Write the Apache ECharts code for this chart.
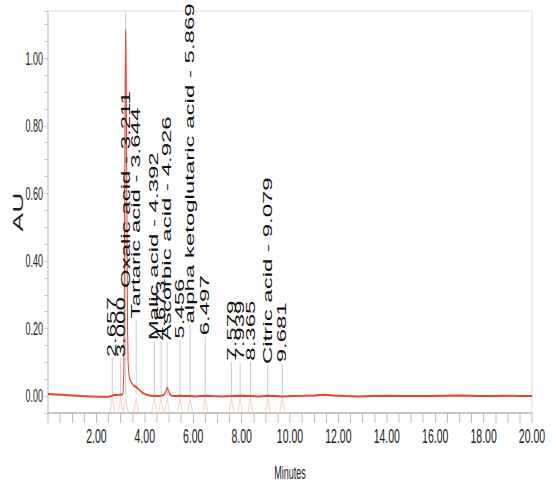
<!DOCTYPE html>
<html>
<head>
<meta charset="utf-8">
<script src="https://cdn.jsdelivr.net/npm/echarts@6/dist/echarts.min.js"></script>
<style>
html,body{margin:0;padding:0;background:#fff;overflow:hidden;}
#wrap{width:552px;height:484px;overflow:hidden;position:relative;background:#fff;}
#chart{width:1104px;height:484px;transform:scaleX(0.5);transform-origin:0 0;}
</style>
</head>
<body>
<div id="wrap"><div id="chart"></div></div>
<script>
// ---------------- data ----------------
const xTickValues = [2, 4, 6, 8, 10, 12, 14, 16, 18, 20];
const xTickLabels = ["2.00", "4.00", "6.00", "8.00", "10.00", "12.00", "14.00", "16.00", "18.00", "20.00"];
const yTickValues = [0, 0.2, 0.4, 0.6, 0.8, 1.0];
const yTickLabels = ["0.00", "0.20", "0.40", "0.60", "0.80", "1.00"];

const traceTime = [0.00, 0.30, 0.60, 1.00, 1.40, 1.80, 2.20, 2.50, 2.657, 2.75, 2.85, 2.95, 3.05, 3.10, 3.13, 3.15, 3.17, 3.19, 3.211, 3.23, 3.25, 3.27, 3.29, 3.31, 3.34, 3.38, 3.45, 3.55, 3.644, 3.75, 3.90, 4.05, 4.20, 4.392, 4.55, 4.673, 4.80, 4.87, 4.926, 4.97, 5.03, 5.12, 5.30, 5.456, 5.65, 5.869, 6.10, 6.30, 6.497, 6.80, 7.20, 7.579, 7.939, 8.365, 8.70, 9.079, 9.40, 9.681, 10.10, 10.60, 11.00, 11.40, 11.80, 12.30, 12.80, 13.40, 14.00, 14.60, 15.20, 15.80, 16.40, 17.00, 17.40, 17.80, 18.40, 19.00, 19.50, 20.00];
const traceAU = [0.006, 0.005, 0.004, 0.002, 0.000, -0.001, -0.002, -0.002, 0.001, 0.004, 0.003, 0.004, 0.004, 0.008, 0.06, 0.25, 0.62, 0.95, 1.085, 0.97, 0.68, 0.38, 0.19, 0.10, 0.065, 0.05, 0.04, 0.03, 0.027, 0.02, 0.01, 0.005, 0.002, 0.000, 0.000, 0.001, 0.004, 0.014, 0.025, 0.018, 0.006, 0.001, 0.000, 0.001, 0.000, 0.000, -0.001, 0.000, 0.001, 0.000, -0.001, 0.000, 0.001, 0.000, -0.001, 0.001, 0.000, -0.001, 0.000, 0.001, 0.002, 0.004, 0.002, 0.000, -0.001, 0.000, 0.001, 0.000, 0.000, 0.000, 0.001, 0.002, 0.001, 0.000, 0.000, 0.001, 0.000, 0.000];

const peakTimes = [2.657, 3.000, 3.211, 3.644, 4.392, 4.673, 4.926, 5.456, 5.869, 6.497, 7.579, 7.939, 8.365, 9.079, 9.681];
const peakNames = ["", "", "Oxalic acid", "Tartaric acid", "Malic acid", "", "Ascorbic acid", "", "alpha ketoglutaric acid", "", "", "", "", "Citric acid", ""];

// ---------------- layout / style ----------------
const SQUEEZE = 0.5;           // the reference image is horizontally compressed
const Y_MIN = -0.05, Y_MAX = 1.14;
const labelLift = [0.115, 0.115, 0.32, 0.23, 0.165, 0.165, 0.165, 0.17, 0.215, 0.18, 0.105, 0.105, 0.105, 0.095, 0.10];
const FONT = "'Liberation Sans', Arial, Helvetica, sans-serif";

function peakLabel(i) {
  const rt = peakTimes[i].toFixed(3);
  return peakNames[i] ? peakNames[i] + " - " + rt : rt;
}
function fmtTick(values, labels) {
  return function (v) {
    for (let k = 0; k < values.length; k++) {
      if (Math.abs(values[k] - v) < 1e-6) return labels[k];
    }
    return "";
  };
}

const chart = echarts.init(document.getElementById('chart'), null, {renderer: 'svg', width: 552 / SQUEEZE, height: 484});

const peakData = peakTimes.map((t, i) => [t, i]);

const option = {
  animation: false,
  backgroundColor: '#ffffff',
  grid: {left: 96, right: 40, top: 11, bottom: 71, containLabel: false, outerBoundsMode: 'none',
         show: true, borderColor: '#cfcfcf', borderWidth: 1, backgroundColor: 'transparent'},
  xAxis: {
    type: 'value', min: 0, max: 20, interval: 0.5,
    axisLine: {show: true, onZero: false, lineStyle: {color: '#c8c8c8', width: 2}},
    axisTick: {show: true, length: 10, lineStyle: {color: '#bdbdbd', width: 2}},
    axisLabel: {formatter: fmtTick(xTickValues, xTickLabels), fontSize: 21, color: '#222', margin: 13, fontFamily: FONT},
    splitLine: {show: false},
    name: 'Minutes', nameLocation: 'middle', nameGap: 51, nameMoveOverlap: false,
    nameTextStyle: {fontSize: 18, lineHeight: 18, color: '#222', fontFamily: FONT}
  },
  yAxis: {
    type: 'value', min: Y_MIN, max: Y_MAX, interval: 0.05,
    axisLine: {show: true, onZero: false, lineStyle: {color: '#c8c8c8', width: 2}},
    axisTick: {show: true, length: 8, lineStyle: {color: '#bdbdbd', width: 1}},
    axisLabel: {formatter: fmtTick(yTickValues, yTickLabels), fontSize: 18, color: '#222', margin: 10, fontFamily: FONT},
    splitLine: {show: false},
    name: 'AU', nameLocation: 'middle', nameRotate: 90, nameGap: 46, nameMoveOverlap: false,
    nameTextStyle: {fontSize: 28, color: '#222', fontFamily: FONT}
  },
  series: [
    {
      type: 'custom', name: 'markers', z: 2, silent: true,
      data: peakData,
      renderItem: function (params, api) {
        const t = api.value(0), i = api.value(1);
        const top = i === 2 ? Y_MAX : labelLift[i] - 0.004;
        const a = api.coord([t, 0.003]), b = api.coord([t, top]);
        const l1 = api.coord([t - 0.1, -0.048]), l2 = api.coord([t, -0.006]), l3 = api.coord([t + 0.1, -0.048]);
        return {
          type: 'group',
          children: [
            {type: 'line', shape: {x1: a[0], y1: a[1], x2: b[0], y2: b[1]}, style: {stroke: '#cccccc', lineWidth: 2}},
            {type: 'polyline', shape: {points: [l1, l2, l3]}, style: {stroke: '#f7d6c2', lineWidth: 2, fill: null}}
          ]
        };
      }
    },
    {
      type: 'line', name: 'trace', z: 3, silent: true,
      data: traceTime.map((t, i) => [t, traceAU[i]]),
      showSymbol: false, symbol: 'none',
      lineStyle: {color: '#e8412c', width: 2}
    },
    {
      type: 'custom', name: 'peakLabels', z: 4, silent: true,
      data: peakData,
      renderItem: function (params, api) {
        const t = api.value(0), i = api.value(1);
        const p = api.coord([t, labelLift[i]]);
        return {
          type: 'text', x: p[0], y: p[1], rotation: Math.PI / 2,
          style: {text: peakLabel(i), fontSize: 24, fontFamily: FONT, fill: '#111', align: 'left', verticalAlign: 'middle'}
        };
      }
    }
  ]
};
chart.setOption(option);
</script>
</body>
</html>
